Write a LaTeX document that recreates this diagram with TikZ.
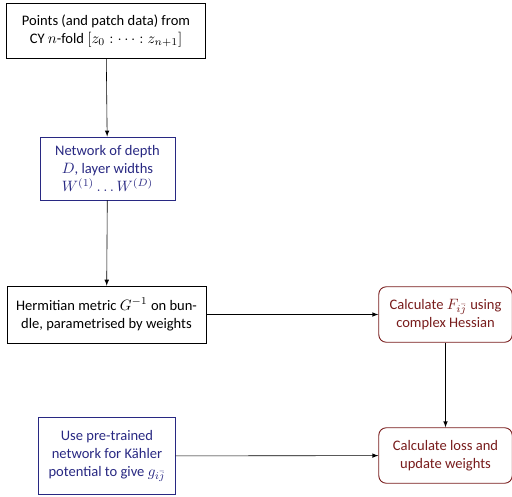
\documentclass[tikz,border=0pt]{standalone}
\usepackage{amsmath,amsfonts}
\usepackage{xcolor}
\usepackage{fontspec}
\setmainfont{Carlito}
\usepackage{tikz}

\definecolor{netblue}{RGB}{40,40,130}
\definecolor{calcred}{RGB}{120,28,28}

\tikzset{
    plainbox/.style={draw,rectangle,align=center,inner sep=2pt,font=\fontsize{9.7pt}{12pt}\selectfont},
    netbox/.style={plainbox,draw=netblue,text=netblue,semithick},
    calcbox/.style={plainbox,draw=calcred,text=calcred,rounded corners=5pt,semithick}
}

\begin{document}
\begin{tikzpicture}[x=0.667pt,y=-0.667pt,baseline=0]
    \useasboundingbox (0,0) rectangle (512,496);
    \node[plainbox,minimum width=133pt,minimum height=37pt] (pts) at (106,31) {Points (and patch data) from\\CY $n$-fold $[z_0:\cdots:z_{n+1}]$};
    \node[netbox,minimum width=90pt,minimum height=42pt] (net) at (107.5,168.5) {Network of depth\\$D$, layer widths\\$W^{(1)}\ldots W^{(D)}$};
    \node[plainbox,minimum width=133pt,minimum height=38pt] (herm) at (106.5,314.5) {Hermitian metric $G^{-1}$ on bun-\\dle, parametrised by weights};
    \node[calcbox,minimum width=89pt,minimum height=37pt] (hess) at (445.5,314.5) {Calculate $F_{i\bar{j}}$ using\\complex Hessian};
    \node[netbox,minimum width=91pt,minimum height=51pt] (kah) at (107,456) {Use pre-trained\\network for K\"ahler\\potential to give $g_{i\bar{j}}$};
    \node[calcbox,minimum width=89pt,minimum height=37pt] (loss) at (445.5,455.5) {Calculate loss and\\update weights};
    \draw[-latex] (pts) to (net);
    \draw[-latex] (net) to (herm);
    \draw[-latex] (herm) to (hess);
    \draw[-latex] (hess) to (loss);
    \draw[-latex] (kah) to (loss);
\end{tikzpicture}
\end{document}
